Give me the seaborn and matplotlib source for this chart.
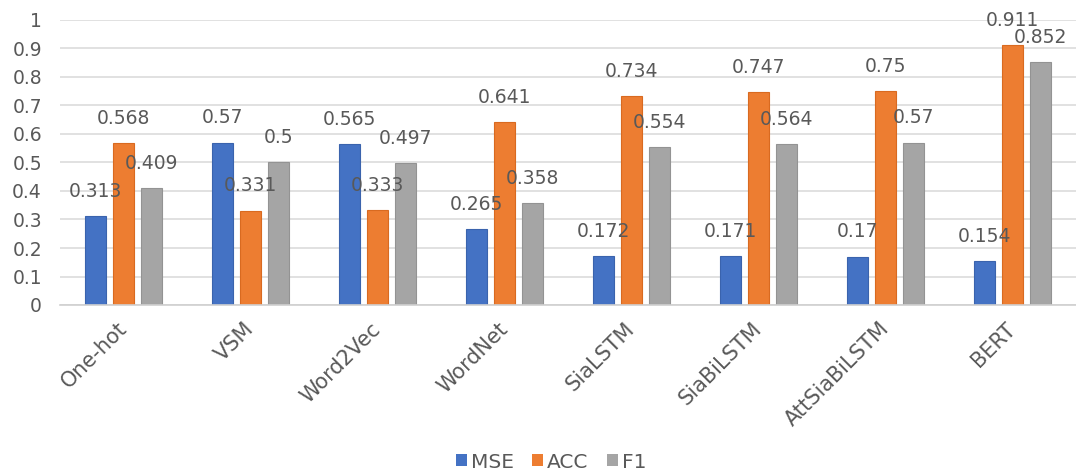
import matplotlib
matplotlib.use("Agg")
import matplotlib.pyplot as plt
import seaborn as sns
import pandas as pd

# Model comparison: MSE / ACC / F1 per text-similarity method
methods = ["One-hot", "VSM", "Word2Vec", "WordNet", "SiaLSTM", "SiaBiLSTM",
           "AttSiaBiLSTM", "BERT"]
mse = [0.313, 0.57, 0.565, 0.265, 0.172, 0.171, 0.17, 0.154]
acc = [0.568, 0.331, 0.333, 0.641, 0.734, 0.747, 0.75, 0.911]
f1 = [0.409, 0.5, 0.497, 0.358, 0.554, 0.564, 0.57, 0.852]
metrics = ["MSE", "ACC", "F1"]
colors = ["#4472C4", "#ED7D31", "#A5A5A5"]
edge_colors = ["#3A63AD", "#D96A20", "#939393"]
y_ticks = [0, 0.1, 0.2, 0.3, 0.4, 0.5, 0.6, 0.7, 0.8, 0.9, 1]
y_tick_labels = ["0", "0.1", "0.2", "0.3", "0.4", "0.5", "0.6", "0.7", "0.8", "0.9", "1"]

df = pd.DataFrame({
    "method": methods * 3,
    "metric": [m for m in metrics for _ in methods],
    "value": mse + acc + f1,
})

sns.set_theme(style="white")
plt.rcParams["font.family"] = ["DejaVu Sans"]
text_color = "#595959"

fig = plt.figure(figsize=(10.76, 4.73), dpi=100)
ax = fig.add_axes([60 / 1076, 1 - 305 / 473, 1 - 60 / 1076, 285 / 473])

sns.barplot(data=df, x="method", y="value", hue="metric", order=methods,
            hue_order=metrics, palette=colors, width=0.66, gap=0.25,
            linewidth=0, saturation=1, ax=ax, legend=True)

# thin darker outline on each bar
for container, ec in zip(ax.containers, edge_colors):
    for patch in container:
        patch.set_edgecolor(ec)
        patch.set_linewidth(0.8)

ax.set_ylim(0, 1)
ax.set_xlim(-0.5, len(methods) - 0.5)
ax.set_yticks(y_ticks)
ax.set_yticklabels(y_tick_labels)
ax.yaxis.grid(True, color="#D9D9D9", linewidth=1.1)
ax.set_axisbelow(True)
for side in ["top", "right", "left"]:
    ax.spines[side].set_visible(False)
ax.spines["bottom"].set_color("#D0D0D0")
ax.spines["bottom"].set_linewidth(1.2)
ax.set_xlabel("")
ax.set_ylabel("")

ax.tick_params(axis="y", length=0, pad=13, labelsize=13.5, labelcolor=text_color)
ax.tick_params(axis="x", length=0, pad=15, labelsize=15, labelcolor=text_color)
for lbl in ax.get_xticklabels():
    lbl.set_rotation(45)
    lbl.set_ha("right")
    lbl.set_va("center")
    lbl.set_rotation_mode("anchor")

for container, vals in zip(ax.containers, [mse, acc, f1]):
    ax.bar_label(container, labels=[f"{v:g}" for v in vals], padding=11,
                 fontsize=13.5, color=text_color)

handles, labels = ax.get_legend_handles_labels()
ax.get_legend().remove()
fig.legend(handles, labels, loc="center",
           bbox_to_anchor=(551 / 1076, 1 - 462 / 473),
           ncol=3, frameon=False, fontsize=14.5, handlelength=0.55,
           handleheight=0.55, handletextpad=0.2, columnspacing=0.9,
           labelcolor=text_color)

fig.savefig("out.png", dpi=100, facecolor="white")
